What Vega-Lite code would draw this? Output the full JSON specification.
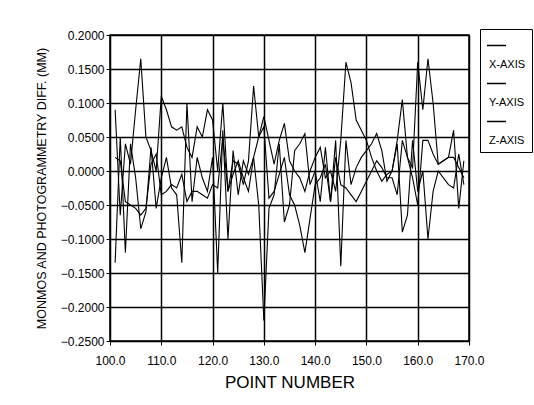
{
  "$schema": "https://vega.github.io/schema/vega-lite/v6.json",
  "width": 359,
  "height": 306,
  "autosize": "none",
  "padding": {"left": 110, "top": 35, "right": 65, "bottom": 64},
  "background": "white",
  "config": {
    "font": "Liberation Sans",
    "view": {"stroke": "black", "strokeWidth": 1.5},
    "axis": {
      "domainColor": "black", "tickColor": "black", "gridColor": "black",
      "gridOpacity": 1, "gridWidth": 1.5, "labelColor": "black", "titleColor": "black",
      "labelFontSize": 12, "tickSize": 4, "labelPadding": 2, "titleFontWeight": "normal"
    }
  },
  "data": {"values": [
    {"p":101,"X-AXIS":-0.135,"Y-AXIS":0.09,"Z-AXIS":0.02},
    {"p":102,"X-AXIS":0.05,"Y-AXIS":-0.065,"Z-AXIS":0.015},
    {"p":103,"X-AXIS":-0.12,"Y-AXIS":0.04,"Z-AXIS":-0.045},
    {"p":104,"X-AXIS":0.04,"Y-AXIS":0.01,"Z-AXIS":-0.05},
    {"p":105,"X-AXIS":-0.01,"Y-AXIS":0.09,"Z-AXIS":-0.055},
    {"p":106,"X-AXIS":-0.085,"Y-AXIS":0.165,"Z-AXIS":-0.065},
    {"p":107,"X-AXIS":-0.06,"Y-AXIS":0.05,"Z-AXIS":-0.055},
    {"p":108,"X-AXIS":0.035,"Y-AXIS":0.03,"Z-AXIS":0.01},
    {"p":109,"X-AXIS":-0.055,"Y-AXIS":0.0,"Z-AXIS":0.025},
    {"p":110,"X-AXIS":-0.01,"Y-AXIS":0.11,"Z-AXIS":-0.035},
    {"p":111,"X-AXIS":0.02,"Y-AXIS":0.09,"Z-AXIS":-0.03},
    {"p":112,"X-AXIS":-0.025,"Y-AXIS":0.065,"Z-AXIS":-0.02},
    {"p":113,"X-AXIS":-0.035,"Y-AXIS":0.06,"Z-AXIS":-0.025},
    {"p":114,"X-AXIS":-0.135,"Y-AXIS":0.065,"Z-AXIS":-0.005},
    {"p":115,"X-AXIS":0.1,"Y-AXIS":0.035,"Z-AXIS":-0.045},
    {"p":116,"X-AXIS":-0.045,"Y-AXIS":0.02,"Z-AXIS":-0.03},
    {"p":117,"X-AXIS":0.02,"Y-AXIS":0.065,"Z-AXIS":-0.03},
    {"p":118,"X-AXIS":-0.01,"Y-AXIS":0.05,"Z-AXIS":-0.035},
    {"p":119,"X-AXIS":-0.03,"Y-AXIS":0.09,"Z-AXIS":-0.04},
    {"p":120,"X-AXIS":0.02,"Y-AXIS":0.075,"Z-AXIS":-0.02},
    {"p":121,"X-AXIS":-0.15,"Y-AXIS":0.0,"Z-AXIS":-0.025},
    {"p":122,"X-AXIS":0.06,"Y-AXIS":0.1,"Z-AXIS":0.05},
    {"p":123,"X-AXIS":-0.1,"Y-AXIS":-0.03,"Z-AXIS":-0.03},
    {"p":124,"X-AXIS":0.03,"Y-AXIS":0.015,"Z-AXIS":-0.005},
    {"p":125,"X-AXIS":-0.035,"Y-AXIS":0.01,"Z-AXIS":0.015},
    {"p":126,"X-AXIS":0.015,"Y-AXIS":-0.02,"Z-AXIS":-0.01},
    {"p":127,"X-AXIS":-0.005,"Y-AXIS":0.015,"Z-AXIS":-0.03},
    {"p":128,"X-AXIS":0.02,"Y-AXIS":0.125,"Z-AXIS":0.02},
    {"p":129,"X-AXIS":-0.05,"Y-AXIS":0.05,"Z-AXIS":0.05},
    {"p":130,"X-AXIS":-0.22,"Y-AXIS":0.08,"Z-AXIS":0.065},
    {"p":131,"X-AXIS":-0.055,"Y-AXIS":0.045,"Z-AXIS":-0.04},
    {"p":132,"X-AXIS":-0.035,"Y-AXIS":0.01,"Z-AXIS":-0.03},
    {"p":133,"X-AXIS":0.04,"Y-AXIS":0.045,"Z-AXIS":-0.005},
    {"p":134,"X-AXIS":-0.075,"Y-AXIS":0.07,"Z-AXIS":0.02},
    {"p":135,"X-AXIS":-0.05,"Y-AXIS":0.015,"Z-AXIS":-0.035},
    {"p":136,"X-AXIS":0.03,"Y-AXIS":0.0,"Z-AXIS":-0.05},
    {"p":137,"X-AXIS":0.04,"Y-AXIS":-0.01,"Z-AXIS":-0.08},
    {"p":138,"X-AXIS":0.055,"Y-AXIS":-0.03,"Z-AXIS":-0.12},
    {"p":139,"X-AXIS":-0.02,"Y-AXIS":0.0,"Z-AXIS":-0.07},
    {"p":140,"X-AXIS":0.0,"Y-AXIS":0.02,"Z-AXIS":-0.02},
    {"p":141,"X-AXIS":-0.045,"Y-AXIS":0.035,"Z-AXIS":-0.01},
    {"p":142,"X-AXIS":0.035,"Y-AXIS":-0.01,"Z-AXIS":0.01},
    {"p":143,"X-AXIS":-0.045,"Y-AXIS":0.0,"Z-AXIS":-0.045},
    {"p":144,"X-AXIS":0.045,"Y-AXIS":-0.03,"Z-AXIS":0.02},
    {"p":145,"X-AXIS":-0.14,"Y-AXIS":0.045,"Z-AXIS":-0.02},
    {"p":146,"X-AXIS":0.045,"Y-AXIS":0.16,"Z-AXIS":-0.025},
    {"p":147,"X-AXIS":-0.02,"Y-AXIS":0.13,"Z-AXIS":-0.035},
    {"p":148,"X-AXIS":0.005,"Y-AXIS":0.075,"Z-AXIS":-0.045},
    {"p":149,"X-AXIS":0.02,"Y-AXIS":0.06,"Z-AXIS":-0.03},
    {"p":150,"X-AXIS":0.03,"Y-AXIS":0.045,"Z-AXIS":-0.015},
    {"p":151,"X-AXIS":0.04,"Y-AXIS":0.02,"Z-AXIS":0.0},
    {"p":152,"X-AXIS":0.055,"Y-AXIS":0.0,"Z-AXIS":0.015},
    {"p":153,"X-AXIS":0.03,"Y-AXIS":-0.015,"Z-AXIS":0.005},
    {"p":154,"X-AXIS":-0.015,"Y-AXIS":-0.005,"Z-AXIS":-0.01},
    {"p":155,"X-AXIS":0.0,"Y-AXIS":0.0,"Z-AXIS":-0.01},
    {"p":156,"X-AXIS":0.04,"Y-AXIS":0.045,"Z-AXIS":-0.035},
    {"p":157,"X-AXIS":-0.09,"Y-AXIS":0.105,"Z-AXIS":0.045},
    {"p":158,"X-AXIS":-0.065,"Y-AXIS":0.02,"Z-AXIS":0.02},
    {"p":159,"X-AXIS":0.045,"Y-AXIS":0.005,"Z-AXIS":-0.01},
    {"p":160,"X-AXIS":-0.03,"Y-AXIS":0.16,"Z-AXIS":-0.05},
    {"p":161,"X-AXIS":0.0,"Y-AXIS":0.09,"Z-AXIS":0.045},
    {"p":162,"X-AXIS":-0.1,"Y-AXIS":0.165,"Z-AXIS":0.045},
    {"p":163,"X-AXIS":-0.03,"Y-AXIS":0.1,"Z-AXIS":0.025},
    {"p":164,"X-AXIS":0.0,"Y-AXIS":0.01,"Z-AXIS":0.01},
    {"p":165,"X-AXIS":-0.01,"Y-AXIS":0.015,"Z-AXIS":0.015},
    {"p":166,"X-AXIS":-0.02,"Y-AXIS":0.02,"Z-AXIS":0.02},
    {"p":167,"X-AXIS":-0.025,"Y-AXIS":0.06,"Z-AXIS":0.02},
    {"p":168,"X-AXIS":0.025,"Y-AXIS":-0.055,"Z-AXIS":0.005},
    {"p":169,"X-AXIS":-0.02,"Y-AXIS":0.015,"Z-AXIS":-0.01}
  ]},
  "transform": [{"fold": ["X-AXIS", "Y-AXIS", "Z-AXIS"], "as": ["series", "diff"]}],
  "mark": {"type": "line", "strokeWidth": 1.1, "clip": true},
  "encoding": {
    "x": {
      "field": "p", "type": "quantitative",
      "scale": {"domain": [100, 170], "nice": false, "zero": false},
      "axis": {"values": [100, 110, 120, 130, 140, 150, 160, 170], "format": ".1f",
               "labelFlush": false, "labelPadding": 10,
               "title": "POINT NUMBER", "titleFontSize": 17, "titlePadding": 8}
    },
    "y": {
      "field": "diff", "type": "quantitative",
      "scale": {"domain": [-0.25, 0.2], "nice": false, "zero": false},
      "axis": {"values": [-0.25, -0.2, -0.15, -0.1, -0.05, 0, 0.05, 0.1, 0.15, 0.2], "format": ".4f",
               "title": "MONMOS AND PHOTOGRAMMETRY DIFF. (MM)", "titleFontSize": 12.5, "titlePadding": 12}
    },
    "color": {
      "field": "series", "type": "nominal",
      "scale": {"domain": ["X-AXIS", "Y-AXIS", "Z-AXIS"], "range": ["black", "black", "black"]},
      "legend": {
        "title": null, "orient": "none", "legendX": 370, "legendY": -6,
        "strokeColor": "black", "padding": 6, "fillColor": "white",
        "symbolType": "stroke", "symbolSize": 361, "symbolStrokeWidth": 1.5,
        "labelFontSize": 11, "labelColor": "black", "labelOffset": -18,
        "labelExpr": "['', datum.label]", "labelBaseline": "top", "labelLineHeight": 7,
        "rowPadding": 3
      }
    },
    "detail": {"field": "series"}
  }
}
